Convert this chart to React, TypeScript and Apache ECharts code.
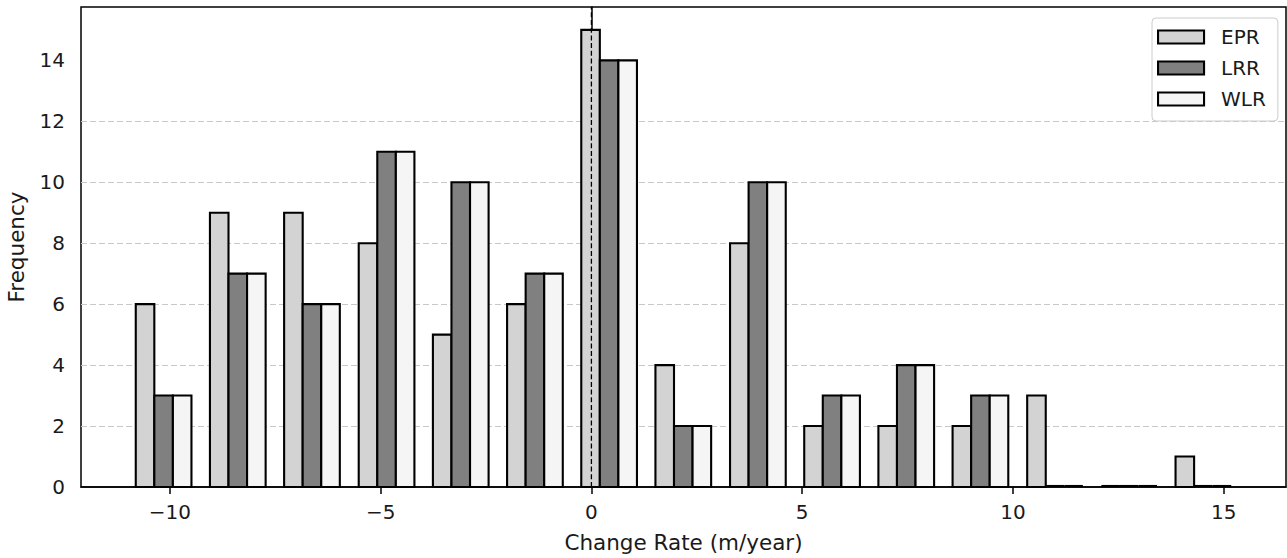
import React, { useEffect, useRef } from "react";
import * as echarts from "echarts";

// ---- data ----
const seriesNames = ["EPR", "LRR", "WLR"];
const binCenters = [-10.15, -8.39, -6.63, -4.86, -3.1, -1.34, 0.42, 2.18, 3.95, 5.71, 7.47, 9.23, 11.0, 12.76, 14.52];
const eprCounts = [6, 9, 9, 8, 5, 6, 15, 4, 8, 2, 2, 2, 3, 0, 1];
const lrrCounts = [3, 7, 6, 11, 10, 7, 14, 2, 10, 3, 4, 3, 0, 0, 0];
const wlrCounts = [3, 7, 6, 11, 10, 7, 14, 2, 10, 3, 4, 3, 0, 0, 0];
const xTicks = [-10, -5, 0, 5, 10, 15];
const yTicks = [0, 2, 4, 6, 8, 10, 12, 14];
const zeroLineX = 0;

// ---- styles ----
const BAR_W = 0.4405;
const EDGE_W = 2.1;
const COLORS = ["#d3d3d3", "#808080", "#f5f5f5"];
const FONT = "DejaVu Sans";
const TEXT = "#1a1a1a";
const X_MIN = -12.11;
const X_MAX = 16.48;
const Y_MAX = 15.75;

const allCounts = [eprCounts, lrrCounts, wlrCounts];

function makeRender(idx: number) {
  return (params: any, api: any) => {
    const c = api.value(0);
    const v = api.value(1);
    const x0 = c + (idx - 1.5) * BAR_W;
    const x1 = x0 + BAR_W;
    const p0 = api.coord([x0, v]);
    const p1 = api.coord([x1, 0]);
    if (v === 0) {
      return {
        type: "line",
        shape: { x1: p0[0], y1: p1[1] - 1, x2: p1[0], y2: p1[1] - 1 },
        style: { stroke: "#000", lineWidth: EDGE_W },
      };
    }
    return {
      type: "rect",
      shape: { x: p0[0], y: p0[1], width: p1[0] - p0[0], height: p1[1] - p0[1] },
      style: { fill: COLORS[idx], stroke: "#000", lineWidth: EDGE_W, lineJoin: "miter" },
    };
  };
}

const fmtNum = (v: number) => (v < 0 ? "\u2212" + Math.abs(v) : String(v));

export default function App() {
  const ref = useRef<HTMLDivElement>(null);
  useEffect(() => {
    if (!ref.current) return;
    const chart = echarts.init(ref.current, null, { renderer: "svg" });
    const option: any = {
      animation: false,
      backgroundColor: "#fff",
      textStyle: { fontFamily: FONT },
      grid: {
        left: 81,
        right: 1,
        top: 7,
        bottom: 71,
        show: true,
        borderColor: "#000",
        borderWidth: 1.5,
        backgroundColor: "transparent",
        containLabel: false,
        outerBoundsMode: "none",
      },
      legend: {
        orient: "vertical",
        left: 1152,
        top: 18,
        padding: [9, 12, 12, 5],
        itemGap: 11,
        itemWidth: 46,
        itemHeight: 13,
        backgroundColor: "rgba(255,255,255,0.85)",
        borderColor: "#cccccc",
        borderWidth: 1,
        borderRadius: 4,
        selectedMode: false,
        textStyle: { fontFamily: FONT, fontSize: 20, color: TEXT, padding: [0, 0, 0, 12] },
        data: seriesNames.map((n, i) => ({
          name: n,
          icon: "rect",
          itemStyle: { color: COLORS[i], borderColor: "#000", borderWidth: EDGE_W },
        })),
      },
      xAxis: {
        type: "value",
        min: X_MIN,
        max: X_MAX,
        name: "Change Rate (m/year)",
        nameLocation: "middle",
        nameGap: 44,
        nameTextStyle: { fontFamily: FONT, fontSize: 21.5, color: TEXT },
        axisLine: { show: true, lineStyle: { color: "#000", width: 1.5 } },
        axisTick: { show: true, length: 7, customValues: xTicks, lineStyle: { color: "#000", width: 1.5 } },
        axisLabel: {
          show: true,
          margin: 15,
          customValues: xTicks,
          fontFamily: FONT,
          fontSize: 20,
          color: TEXT,
          formatter: (v: number) => fmtNum(v),
        },
        splitLine: { show: false },
      },
      yAxis: {
        type: "value",
        min: 0,
        max: Y_MAX,
        interval: 2,
        name: "Frequency",
        nameLocation: "middle",
        nameGap: 54,
        nameTextStyle: { fontFamily: FONT, fontSize: 21.5, color: TEXT },
        axisLine: { show: true, lineStyle: { color: "#000", width: 1.5 } },
        axisTick: { show: true, length: 7, customValues: yTicks, lineStyle: { color: "#000", width: 1.5 } },
        axisLabel: {
          show: true,
          margin: 16,
          customValues: yTicks,
          fontFamily: FONT,
          fontSize: 20,
          color: TEXT,
          formatter: (v: number) => fmtNum(v),
        },
        splitLine: {
          show: true,
          showMinLine: false,
          showMaxLine: false,
          lineStyle: { color: "#c8c8c8", width: 1.2, type: [6, 3] },
        },
      },
      series: [
        ...seriesNames.map((n, i) => ({
          name: n,
          type: "custom",
          renderItem: makeRender(i),
          encode: { x: 0, y: 1 },
          itemStyle: { color: COLORS[i], borderColor: "#000", borderWidth: EDGE_W },
          data: binCenters.map((c, k) => [c, allCounts[i][k]]),
          z: 3,
        })),
        {
          name: "zero",
          type: "line",
          data: [
            [zeroLineX, 0],
            [zeroLineX, Y_MAX],
          ],
          symbol: "none",
          silent: true,
          lineStyle: { color: "#000", width: 1.3, type: [5, 2.7] },
          z: 5,
        },
      ],
    };
    chart.setOption(option);
    return () => chart.dispose();
  }, []);
  return (
    <div
      ref={ref}
      style={{ position: "absolute", left: 0, top: 0, width: 1287, height: 558 }}
    />
  );
}
